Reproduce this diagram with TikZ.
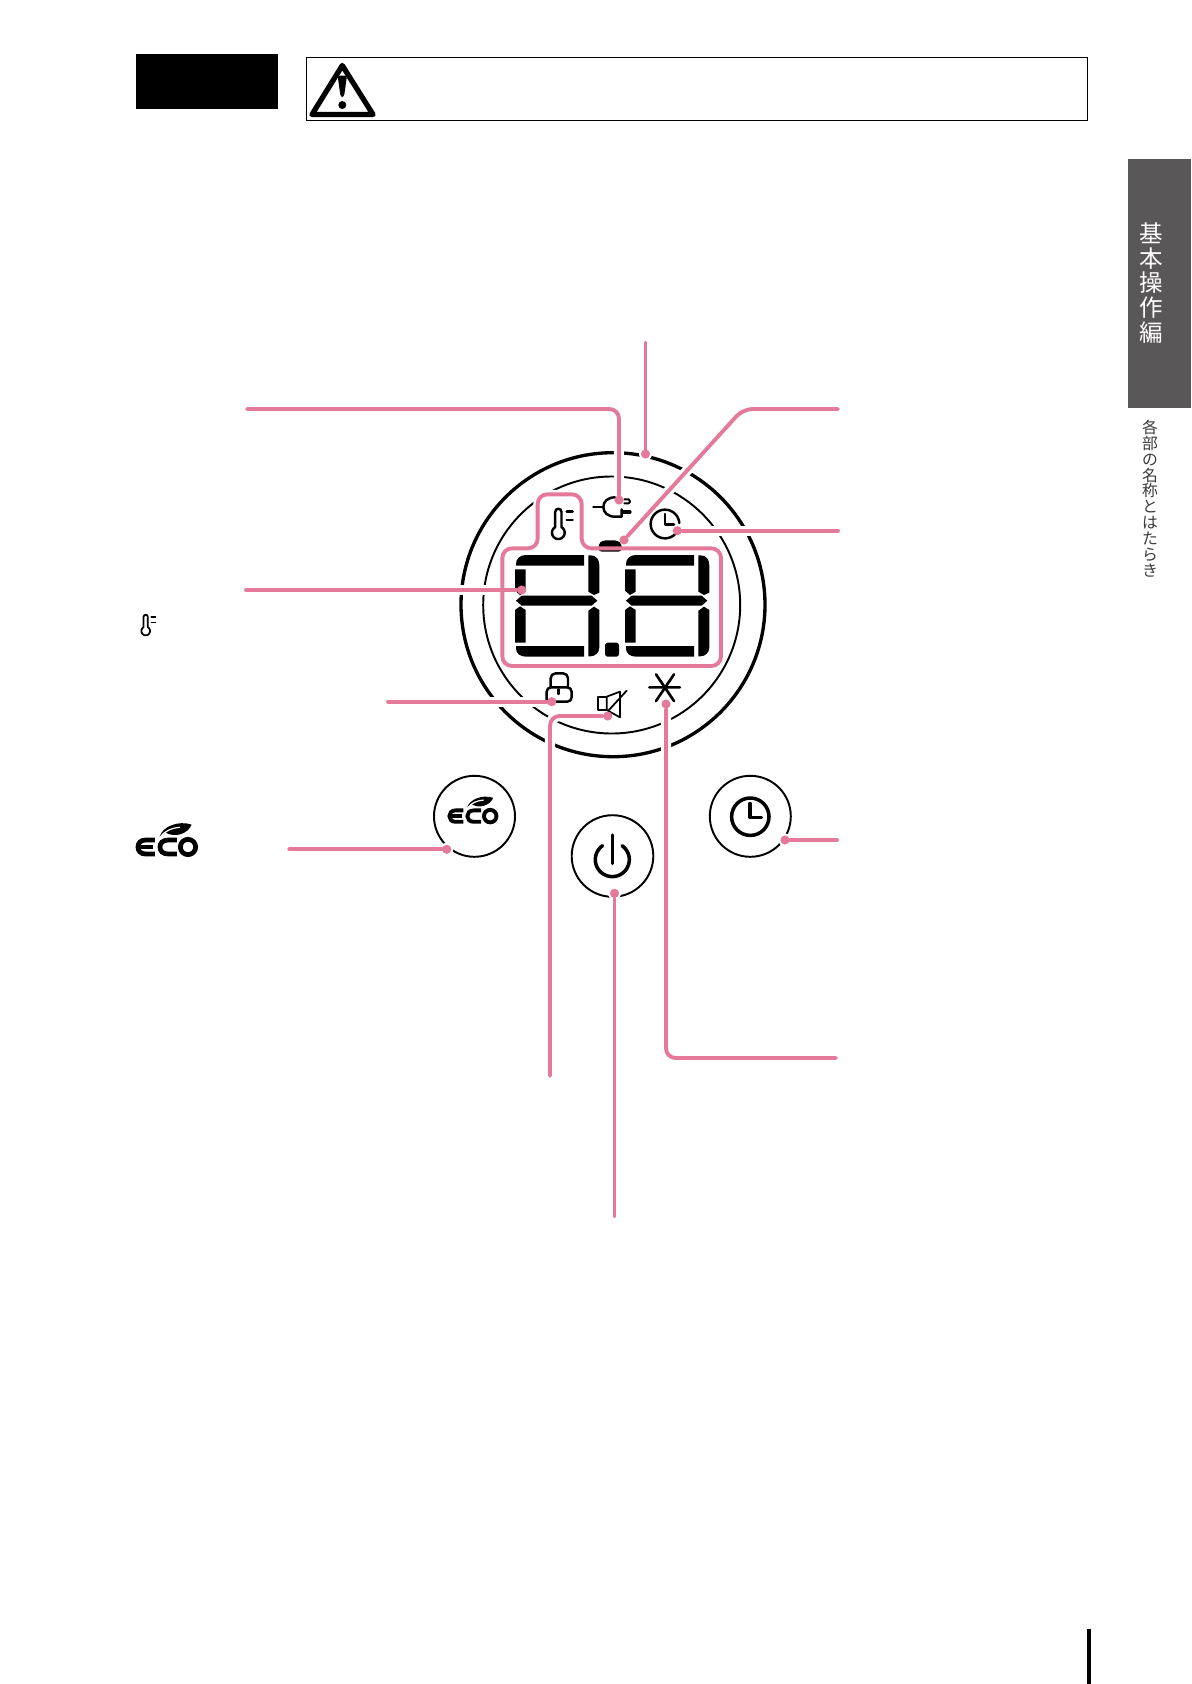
\documentclass[tikz,border=0pt]{standalone}
\usepackage{fontspec}
\newfontfamily\cjk{Noto Sans CJK JP}
\usetikzlibrary{backgrounds}
\definecolor{pinkline}{HTML}{E5799A}
\definecolor{tabgray}{HTML}{5A5758}
\definecolor{subgray}{HTML}{3A3A3A}
\tikzset{
  pinkpath/.style={draw=pinkline,line width=2.2pt,line cap=round,rounded corners=5.5pt},
  halopath/.style={draw=white,line width=5.8pt,rounded corners=5.5pt},
  pdot/.style={circle,fill=pinkline,draw=none,inner sep=0pt,minimum size=5.2pt},
  icon/.style={draw=black,line width=1.4pt,line cap=round,line join=round},
  ring/.style={draw=black,line width=1.1pt},
  bigring/.style={draw=black,line width=1.9pt},
  seg/.style={fill=black,draw=none},
  sidetext/.style={align=center,inner sep=0pt,font=\cjk}
}
% local unit = 1/3 px for the thermometer; origin at the centre of the bulb
\newcommand\thermoicon[4]{%
  \begin{scope}[shift={(#1,#2)},scale=#3]
    \draw[icon,line width=#4] plot[domain=-60:240,samples=30] ({19*cos(\x)},{19*sin(\x)})
      -- (-9.5,-62) .. controls (-9.5,-75) and (9.5,-75) .. (9.5,-62) -- cycle;
    \draw[icon,line width=#4] (25,-63) -- (43,-63) (25,-38) -- (43,-38);
  \end{scope}}
\newcommand\ecoicon[4]{%
  \begin{scope}[shift={(#1,#2)},scale=#3]
    \draw[line width=#4,line cap=butt] (90,90) -- (62,90) .. controls (46,90) and (39,100) .. (39,111)
       .. controls (39,122) and (46,132) .. (62,132) -- (90,132);
    \draw[line width=#4] (39,111) -- (84,111);
    \draw[line width=#4] (156,90) -- (130,90) .. controls (112,90) and (105,100) .. (105,111)
       .. controls (105,122) and (112,132) .. (130,132) -- (156,132);
    \draw[line width=#4] (189,111) circle (23);
    \fill[white] (104,84) -- (150,66) -- (104,66) -- cycle;
    \fill (104,80) .. controls (112,50) and (160,30) .. (200,44)
       .. controls (188,72) and (150,84) .. (122,68) -- cycle;
    \draw[white,line width=0.7pt] (106,81) .. controls (120,62) and (140,54) .. (165,52);
  \end{scope}}
\begin{document}
\begin{tikzpicture}[x=0.02cm,y=-0.02cm]
\useasboundingbox (0,0) rectangle (1191,1684);
% --- callout dots
\node[pdot] (plugdot) at (619,500) {};
\node[pdot] (topdot) at (645.5,454) {};
\node[pdot] (diagdot) at (624,540) {};
\node[pdot] (clockdot) at (677.3,530.7) {};
\node[pdot] (dispdot) at (521.7,590) {};
\node[pdot] (lockdot) at (551.7,701.7) {};
\node[pdot] (spkdot) at (607.7,716) {};
\node[pdot] (snowdot) at (666,704) {};
\node[pdot] (ecodot) at (446.7,849.3) {};
\node[pdot] (powdot) at (614.5,893.3) {};
\node[pdot] (timerdot) at (785,840) {};
% --- free ends
\coordinate (plugend) at (247,409);
\coordinate (topend) at (645.5,343);
\coordinate (diagend) at (838,409);
\coordinate (diagbend) at (743,409);
\coordinate (clockend) at (838,530.7);
\coordinate (dispend) at (246,590);
\coordinate (lockend) at (388,701.7);
\coordinate (spkend) at (550,1076);
\coordinate (snowend) at (836,1058);
\coordinate (ecoend) at (289.3,849.3);
\coordinate (powend) at (614.5,1216);
\coordinate (timerend) at (837,840);

\begin{pgfonlayer}{background}
  % --- header
  \node[fill=black,draw=none,minimum width=2.84cm,minimum height=1.1cm,inner sep=0pt] (blackbox) at (207,81.5) {};
  \node[draw=black,line width=0.7pt,minimum width=15.63cm,minimum height=1.26cm,inner sep=0pt] (warnframe) at (697.2,88.8) {};
  \draw[draw=black,line width=3pt,line join=round] (342.3,65.5) -- (312,114.5) -- (373,114.5) -- cycle;
  \fill[rounded corners=1.5pt] (337.6,75.5) -- (347,75.5) -- (344,97) -- (340.6,97) -- cycle;
  \fill (342.3,105) circle (4);
  % --- side tab
  \node[fill=tabgray,draw=none,minimum width=1.25cm,minimum height=4.97cm,inner sep=0pt] (tabbox) at (1159.5,283.5) {};
  \node[sidetext,text=white,font=\cjk\fontsize{13.4}{14.2}\selectfont] (tabtext) at (1151.7,283) {基\\本\\操\\作\\編};
  \node[sidetext,text=subgray,font=\cjk\fontsize{9}{9.02}\selectfont] (subtext) at (1150,498.5) {各\\部\\の\\名\\称\\と\\は\\た\\ら\\き};
  \draw[draw=black,line width=2.3pt] (1089,1629) -- (1089,1684);
  % --- rings
  \draw[bigring] (613,604.7) circle (152);
  \draw[ring] (611.7,605) circle (128.5);
  \draw[ring] (474.5,816.3) circle (40.5);
  \draw[ring] (612.5,856) circle (40.8);
  \draw[ring] (750.3,816.3) circle (40.5);
  % --- white halos round the pink lines
  \path[halopath] (plugend) -| (plugdot);
  \path[halopath] (topend) -- (topdot);
  \path[halopath] (diagend) -- (diagbend) -- (diagdot);
  \path[halopath] (clockend) -- (clockdot);
  \path[halopath] (dispend) -- (dispdot);
  \path[halopath] (lockend) -- (lockdot);
  \path[halopath] (spkdot) -| (spkend);
  \path[halopath] (snowdot) |- (snowend);
  \path[halopath] (ecoend) -- (ecodot);
  \path[halopath] (powend) -- (powdot);
  \path[halopath] (timerend) -- (timerdot);
  \foreach \n in {plugdot,topdot,diagdot,clockdot,lockdot,spkdot,snowdot,ecodot,powdot,timerdot}
    \fill[white] (\n) circle (6.5);
  % --- panel icons and display, in units of 1/3 px
  \begin{scope}[shift={(440,440)},scale=1/3]
    % display outline, white halo and fill
    \path[draw=white,fill=white,line width=5pt,rounded corners=5.5pt]
      (187,325) -- (293,325) -- (293,163) -- (425,163) -- (425,325) -- (843,325) -- (843,678) -- (187,678) -- cycle;
    % pill above the display
    \fill[rounded corners=2pt] (475,335) -- (475,314) -- (486,301) -- (534,301) -- (546,314) -- (546,335) -- cycle;
    % digits
    \foreach \dx in {0,330} {
      \begin{scope}[shift={(\dx,0)}]
        \fill[seg] (228,377) -- (228,372) .. controls (228,356) and (240,345) .. (258,345) -- (432,345) -- (432,377) -- cycle;
        \fill[seg] (445,346) -- (452,346) .. controls (468,346) and (478,358) .. (478,376) -- (478,458) -- (462,465) -- (445,455) -- cycle;
        \fill[seg] (225,388) -- (257,388) -- (257,455) -- (240,465) -- (225,452) -- cycle;
        \fill[seg] (228,482) -- (245,467) -- (455,467) -- (472,482) -- (455,497) -- (245,497) -- cycle;
        \fill[seg] (225,510) -- (240,499) -- (257,510) -- (257,608) -- (225,608) -- cycle;
        \fill[seg] (445,512) -- (462,500) -- (478,510) -- (478,622) .. controls (478,638) and (466,649) .. (450,649) -- (445,649) -- cycle;
        \fill[seg] (228,618) -- (432,618) -- (432,650) -- (258,650) .. controls (240,650) and (228,640) .. (228,625) -- cycle;
      \end{scope}
    }
    \fill[rounded corners=1.5pt] (495,608) rectangle (537,650);
    % plug
    \draw[icon] (460,201) -- (490,201);
    \draw[icon] (525,172) .. controls (503,172) and (490,185) .. (490,201)
       .. controls (490,217) and (503,230) .. (525,230) -- (545,230) -- (545,208);
    \draw[icon,line width=1.1pt] (553,178) -- (566,178) .. controls (572,181) and (572,188) .. (566,190) -- (553,190);
    \draw[icon,line width=1.9pt] (548,216) -- (570,216);
    % clock
    \draw[icon] plot[domain=42:356,samples=40] ({675+43*cos(\x)},{252+43*sin(\x)});
    \draw[icon] (675,222) -- (675,253) -- (702,253);
    % lock
    \draw[icon,rounded corners=2.5pt] (320,785) -- (320,742) -- (395,742) -- (395,785) -- (340,785);
    \draw[icon,rounded corners=2.8pt] (332,742) -- (332,700) -- (384,700) -- (384,742);
    \draw[icon] (356,748) -- (356,762);
    % speaker
    \draw[icon,line width=1pt] (500,770) -- (473,770) -- (473,810) -- (500,810);
    \draw[icon,line width=1pt] (500,770) -- (540,755) -- (540,832) -- (500,810) -- cycle;
    \draw[icon,line width=1pt] (505,812) -- (560,752);
    % snowflake
    \draw[icon,line width=1.5pt] (628,742) -- (720,742) (648,703) -- (702,783) (702,703) -- (648,783);
    % thermometer
    \thermoicon{355}{278}{1}{1.4pt}
  \end{scope}
  \thermoicon{145.7}{631}{0.227}{1pt}
  % --- buttons
  \ecoicon{125}{810}{0.3333}{2.7pt}
  \ecoicon{438.8}{785.9}{0.272}{2.2pt}
  % power
  \draw[icon,line width=2pt] plot[domain=-55:235,samples=40] ({612.3+17*cos(\x)},{859.6+17*sin(\x)});
  \draw[icon,line width=2pt] (612.3,835) -- (612.3,863.5);
  % timer
  \draw[icon,line width=2pt] (750.3,816.7) circle (18.7);
  \draw[icon,line width=2pt] (750,803.5) -- (750,817.5) -- (761.5,817.5);
\end{pgfonlayer}

% --- pink outline and connectors
\begin{scope}[shift={(440,440)},scale=1/3]
  \draw[pinkpath] (187,325) -- (293,325) -- (293,163) -- (425,163) -- (425,325) -- (843,325) -- (843,678) -- (187,678) -- cycle;
\end{scope}
\draw[pinkpath] (plugend) -| (plugdot);
\draw[pinkpath] (topend) -- (topdot);
\draw[pinkpath] (diagend) -- (diagbend) -- (diagdot);
\draw[pinkpath] (clockend) -- (clockdot);
\draw[pinkpath] (dispend) -- (dispdot);
\draw[pinkpath] (lockend) -- (lockdot);
\draw[pinkpath] (spkdot) -| (spkend);
\draw[pinkpath] (snowdot) |- (snowend);
\draw[pinkpath] (ecoend) -- (ecodot);
\draw[pinkpath] (powend) -- (powdot);
\draw[pinkpath] (timerend) -- (timerdot);
\end{tikzpicture}
\end{document}
